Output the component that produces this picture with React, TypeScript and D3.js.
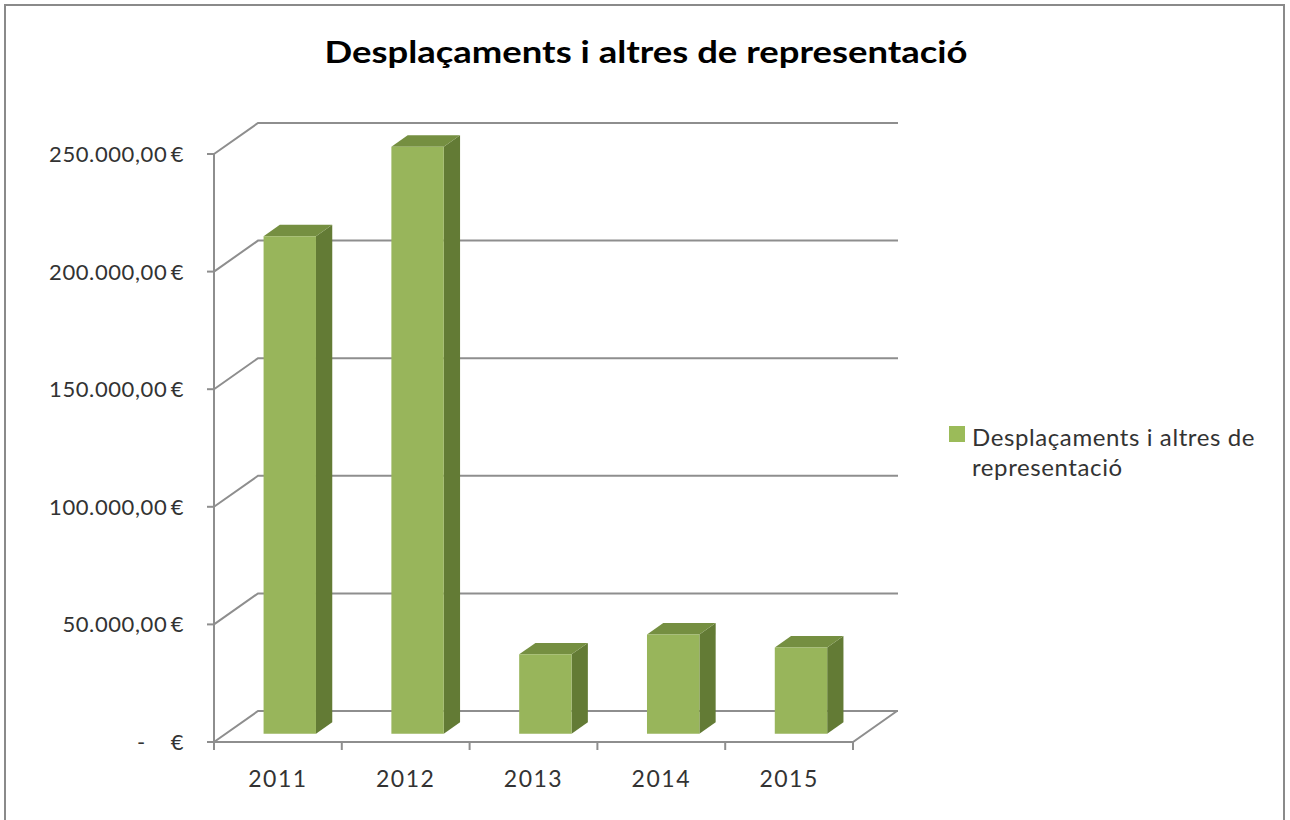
import React from 'react';
import * as d3 from 'd3';

const years = ['2011', '2012', '2013', '2014', '2015'];
const amounts = [211500, 249500, 33700, 42200, 36600];
const yTicks = [0, 50000, 100000, 150000, 200000, 250000];
const seriesName = 'Desplaçaments i altres de representació';

const W = 1290;
const H = 820;
// depth offset of the back wall
const DX = 44;
const DY = -31;
// bar placement inside the depth
const BAR_FRONT = 0.27;
const BAR_BACK = 0.64;

const fmt = (v: number) => {
  if (v === 0) return '-    €';
  const s = d3.format(',.2f')(v).replace(/,/g, '#').replace('.', ',').replace(/#/g, '.');
  return s + '\u2009€';
};

const App = () => {
  const x = d3.scaleBand<string>().domain(years).range([214, 853]).padding(0);
  const y = d3.scaleLinear().domain([0, 250000]).range([742, 154]);
  const barW = x.bandwidth() * 0.41;

  const p = (px: number, py: number, d: number) => `${px + d * DX},${py + d * DY}`;

  const grid = '#8e8e8e';
  const font = 'Lato, "Open Sans", sans-serif';

  return (
    <div style={{ position: 'fixed', left: 0, top: 0 }}>
      <svg width={W} height={H} style={{ display: 'block', background: '#fff' }}>
        <rect x={5} y={5} width={1279} height={830} fill="#fff" stroke="#8a8a8a" strokeWidth={2} />

        <text x={646} y={63} textAnchor="middle" fontFamily={font} fontWeight="bold" fontSize={30}
          fill="#000" textLength={643} lengthAdjust="spacingAndGlyphs">
          {seriesName}
        </text>

        {/* walls: gridlines */}
        {yTicks.map((t) => (
          <polyline key={t} fill="none" stroke={grid} strokeWidth={2}
            points={`${p(214, y(t), 0)} ${p(214, y(t), 1)} ${p(898 - DX, y(t), 1)}`} />
        ))}
        {/* floor front and right edges */}
        <polyline fill="none" stroke={grid} strokeWidth={2}
          points={`${p(214, y(0), 0)} ${p(853, y(0), 0)} ${p(853, y(0), 1)}`} />
        {/* value axis */}
        <line x1={214} x2={214} y1={y(0)} y2={y(250000)} stroke={grid} strokeWidth={2} />
        {yTicks.map((t) => (
          <line key={'t' + t} x1={207} x2={214} y1={y(t)} y2={y(t)} stroke={grid} strokeWidth={2} />
        ))}
        {yTicks.map((t) => (
          <text key={'l' + t} x={184} y={y(t) + 8} textAnchor="end" fontFamily={font} fontSize={22}
            letterSpacing={0.6} fill="#333" style={{ whiteSpace: 'pre' }}>
            {fmt(t)}
          </text>
        ))}
        {/* category ticks */}
        {[...years.map((c) => x(c) as number), 853].map((v, i) => (
          <line key={'c' + i} x1={v} x2={v} y1={y(0)} y2={y(0) + 8} stroke={grid} strokeWidth={2} />
        ))}
        {years.map((c) => (
          <text key={'x' + c} x={(x(c) as number) + x.bandwidth() / 2} y={787} textAnchor="middle"
            fontFamily={font} fontSize={23} letterSpacing={1.5} fill="#333">
            {c}
          </text>
        ))}

        {/* bars */}
        {years.map((c, i) => {
          const cx = (x(c) as number) + x.bandwidth() / 2;
          const x0 = cx - barW / 2;
          const x1 = cx + barW / 2;
          const yb = y(0);
          const yt = y(amounts[i]);
          const f = BAR_FRONT;
          const b = BAR_BACK;
          return (
            <g key={'b' + c}>
              <polygon fill="#637b35"
                points={`${p(x1, yb, f)} ${p(x1, yb, b)} ${p(x1, yt, b)} ${p(x1, yt, f)}`} />
              <polygon fill="#758f41"
                points={`${p(x0, yt, f)} ${p(x1, yt, f)} ${p(x1, yt, b)} ${p(x0, yt, b)}`} />
              <polygon fill="#98b55b"
                points={`${p(x0, yb, f)} ${p(x1, yb, f)} ${p(x1, yt, f)} ${p(x0, yt, f)}`} />
            </g>
          );
        })}

        {/* legend */}
        <rect x={949} y={426} width={16} height={16} fill="#9bbb59" />
        <text x={972} y={446} fontFamily={font} fontSize={24} fill="#333" letterSpacing={0.6}>
          Desplaçaments i altres de
        </text>
        <text x={972} y={476} fontFamily={font} fontSize={24} fill="#333" letterSpacing={0.6}>
          representació
        </text>
      </svg>
    </div>
  );
};

export default App;
